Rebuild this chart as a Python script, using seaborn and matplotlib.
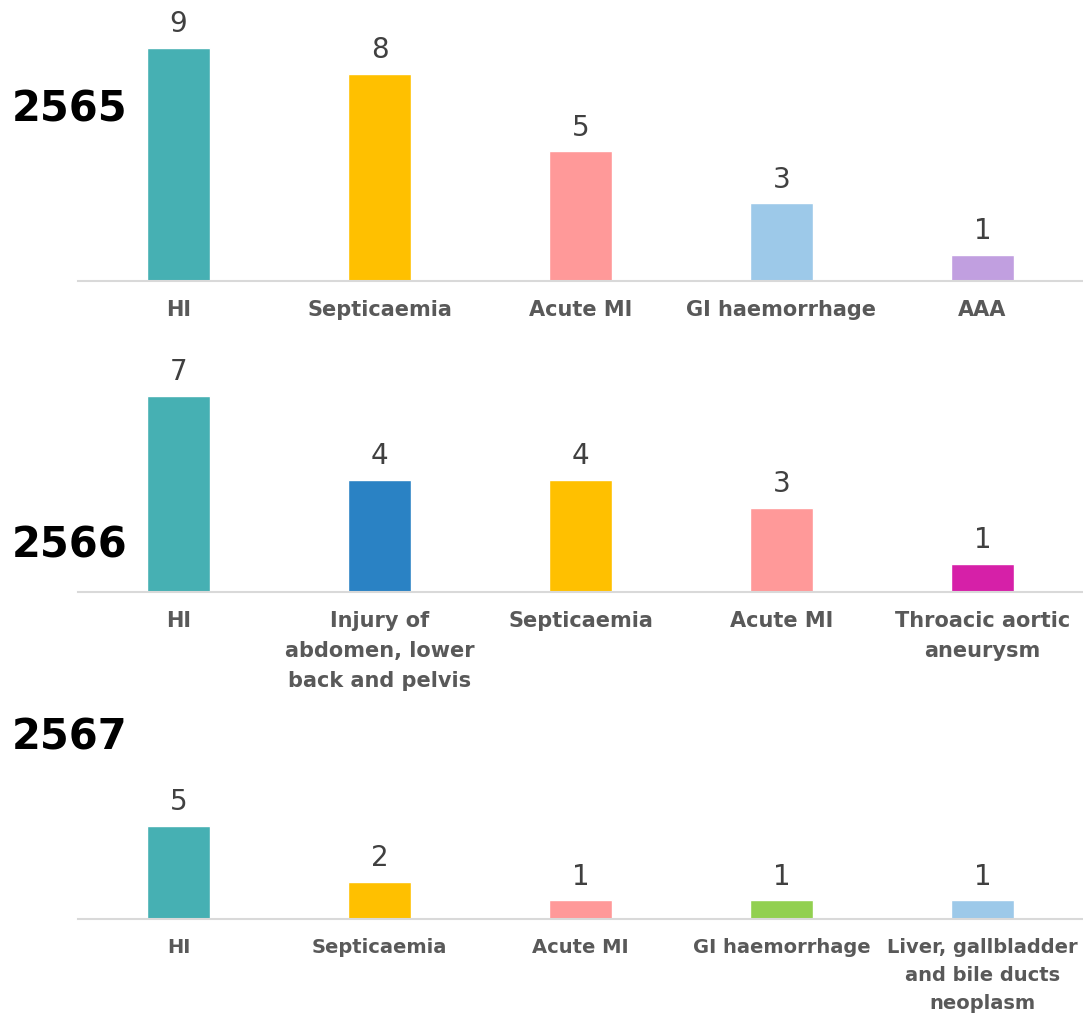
import matplotlib
matplotlib.use("Agg")
import matplotlib.pyplot as plt
import seaborn as sns

sns.set_theme(style="white")
plt.rcParams['font.family'] = ['DejaVu Sans']

years = ["2565", "2566", "2567"]

cats_2565 = ["HI", "Septicaemia", "Acute MI", "GI haemorrhage", "AAA"]
vals_2565 = [9, 8, 5, 3, 1]
cols_2565 = ["#46B0B3", "#FFC000", "#FF9999", "#9DC9E9", "#C19FE0"]

cats_2566 = ["HI", "Injury of\nabdomen, lower\nback and pelvis", "Septicaemia", "Acute MI",
             "Throacic aortic\naneurysm"]
vals_2566 = [7, 4, 4, 3, 1]
cols_2566 = ["#46B0B3", "#2A82C4", "#FFC000", "#FF9999", "#D620A8"]

cats_2567 = ["HI", "Septicaemia", "Acute MI", "GI haemorrhage",
             "Liver, gallbladder\nand bile ducts\nneoplasm"]
vals_2567 = [5, 2, 1, 1, 1]
cols_2567 = ["#46B0B3", "#FFC000", "#FF9999", "#92D050", "#9DC9E9"]

panels = [
    (cats_2565, vals_2565, cols_2565, 9.5, 15),
    (cats_2566, vals_2566, cols_2566, 7.5, 15),
    (cats_2567, vals_2567, cols_2567, 5.0, 14),
]

W, H = 1083, 1015
fig = plt.figure(figsize=(W / 100, H / 100), dpi=100)

rects = [(281, 281 - 9.5 * 25.9), (592, 592 - 7.5 * 28.0), (919, 919 - 5.0 * 18.6)]
year_pos = [(70, 110), (70, 545), (70, 737)]

for (cats, vals, cols, ymax, fs), (base, top), yr, (yx, yy) in zip(panels, rects, years, year_pos):
    ax = fig.add_axes([78 / W, 1 - base / H, (W - 78) / W, (base - top) / H])
    sns.barplot(x=cats, y=vals, hue=cats, palette=cols, width=0.31, legend=False,
                saturation=1, ax=ax)
    ax.set_ylim(0, ymax)
    ax.set_xlim(-0.5, 4.5)
    for c in ax.containers:
        ax.bar_label(c, padding=7, fontsize=20, color="#404040", clip_on=False)
    sns.despine(ax=ax, left=True, top=True, right=True)
    ax.spines['bottom'].set_color("#D9D9D9")
    ax.spines['bottom'].set_linewidth(1.5)
    ax.set_yticks([])
    ax.set_ylabel("")
    ax.set_xlabel("")
    ax.tick_params(axis='x', length=0, pad=14)
    for lab in ax.get_xticklabels():
        lab.set_fontweight("bold")
        lab.set_fontsize(fs)
        lab.set_color("#595959")
        lab.set_linespacing(1.6)
    ax.patch.set_alpha(0)
    fig.text(yx / W, 1 - yy / H, yr, fontsize=30, fontweight="bold", color="black",
             ha="center", va="center")

fig.savefig("out.png", dpi=100)
